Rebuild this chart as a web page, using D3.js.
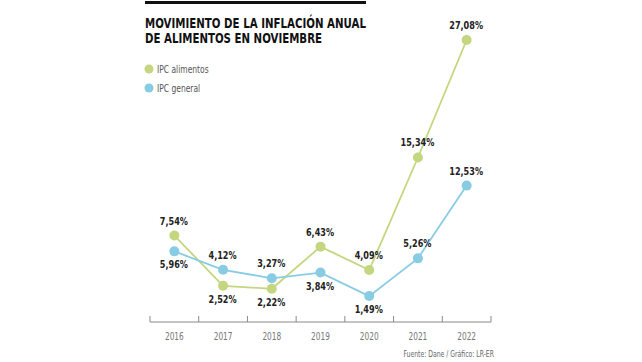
<!DOCTYPE html>
<html>
<head>
<meta charset="utf-8">
<script src="https://cdn.jsdelivr.net/npm/d3@7"></script>
<style>
  body { margin: 0; background: #fff; }
  svg text { font-family: "DejaVu Sans Condensed", "Roboto", sans-serif; }
</style>
</head>
<body>
<div id="chart"></div>
<script>
let years = ["2016", "2017", "2018", "2019", "2020", "2021", "2022"];
let ipc_alimentos = [7.54, 2.52, 2.22, 6.43, 4.09, 15.34, 27.08];
let ipc_general = [5.96, 4.12, 3.27, 3.84, 1.49, 5.26, 12.53];
// label above (-1) or below (+1) the dot
let pos_alimentos = [-1, 1, 1, -1, -1, -1, -1];
let pos_general = [1, -1, -1, 1, 1, -1, -1];
let series_names = ["IPC alimentos", "IPC general"];
let palette = ["#c4d67f", "#88cce4"];

let width = 642, height = 362;

let svg = d3.select("#chart")
  .append("svg")
    .attr("width", width)
    .attr("height", height);

// squeeze text horizontally, the original uses a narrow font
function condense(sel, f) {
  sel.each(function() {
    let w = this.getComputedTextLength();
    d3.select(this).attr("textLength", w * f).attr("lengthAdjust", "spacingAndGlyphs");
  });
}

// top rule + title
svg.append("rect").attr("x", 145).attr("y", 1).attr("width", 221).attr("height", 3).attr("fill", "#111");
svg.append("text").attr("x", 145).attr("y", 28)
  .attr("textLength", 221).attr("lengthAdjust", "spacingAndGlyphs")
  .style("font-size", "14.5px").style("font-weight", "bold").attr("fill", "#111")
  .text("MOVIMIENTO DE LA INFLACIÓN ANUAL");
svg.append("text").attr("x", 145).attr("y", 42.5)
  .attr("textLength", 177).attr("lengthAdjust", "spacingAndGlyphs")
  .style("font-size", "14.5px").style("font-weight", "bold").attr("fill", "#111")
  .text("DE ALIMENTOS EN NOVIEMBRE");

// legend
series_names.forEach(function(name, i) {
  svg.append("circle").attr("cx", 149).attr("cy", 69 + i * 19).attr("r", 4.5).attr("fill", palette[i]);
  svg.append("text").attr("x", 157).attr("y", 72.5 + i * 19)
    .style("font-size", "10.5px").attr("fill", "#555").text(name)
    .call(condense, 0.8);
});

let x = d3.scaleBand()
  .domain(years)
  .range([150, 491])
  .padding(0);

let y = d3.scaleLinear()
  .domain([0, 27.08])
  .range([311, 40]);

// axis
let axisY = 322;
let xAxis = svg.append("g")
  .attr("transform", "translate(0," + axisY + ")")
  .call(d3.axisBottom(x).tickSize(0).tickPadding(11));
xAxis.select(".domain").attr("stroke", "#8a8a8a").attr("d", "M150,0H491");
xAxis.selectAll("text").style("font-size", "10.5px").attr("fill", "#777")
  .style("font-family", "'DejaVu Sans Condensed', sans-serif")
  .call(condense, 0.78);
let bounds = years.map(function(d) { return x(d); }).concat([x(years[years.length - 1]) + x.bandwidth()]);
xAxis.selectAll("line.bound")
  .data(bounds)
  .enter().append("line")
    .attr("class", "bound")
    .attr("x1", function(d) { return d; }).attr("x2", function(d) { return d; })
    .attr("y1", -6).attr("y2", 0)
    .attr("stroke", "#8a8a8a");

let fmt = function(v) { return d3.format(".2f")(v).replace(".", ",") + "%"; };
let cx = function(d, i) { return x(years[i]) + x.bandwidth() / 2; };

let line = d3.line()
  .x(function(d, i) { return cx(d, i); })
  .y(function(d) { return y(d); });

[[ipc_alimentos, pos_alimentos], [ipc_general, pos_general]].forEach(function(s, k) {
  let vals = s[0], pos = s[1];
  svg.append("path").datum(vals)
    .attr("d", line)
    .attr("fill", "none")
    .attr("stroke", palette[k])
    .attr("stroke-width", 1.8);
  svg.selectAll("circle.s" + k)
    .data(vals)
    .enter().append("circle")
      .attr("class", "s" + k)
      .attr("cx", cx)
      .attr("cy", function(d) { return y(d); })
      .attr("r", 5)
      .attr("fill", palette[k]);
  svg.selectAll("text.l" + k)
    .data(vals)
    .enter().append("text")
      .attr("class", "l" + k)
      .attr("x", function(d, i) { return cx(d, i) - 0.5; })
      .attr("y", function(d, i) { return y(d) + (pos[i] < 0 ? -11 : 17); })
      .attr("text-anchor", "middle")
      .style("font-size", "11px").style("font-weight", "bold")
      .attr("fill", "#222")
      .text(fmt)
      .call(condense, 0.82);
});

// source
svg.append("text").attr("x", 494).attr("y", 357)
  .attr("text-anchor", "end")
  .style("font-size", "8px").attr("fill", "#666")
  .text("Fuente: Dane / Gráfico: LR-ER")
  .call(condense, 0.85);
</script>
</body>
</html>
